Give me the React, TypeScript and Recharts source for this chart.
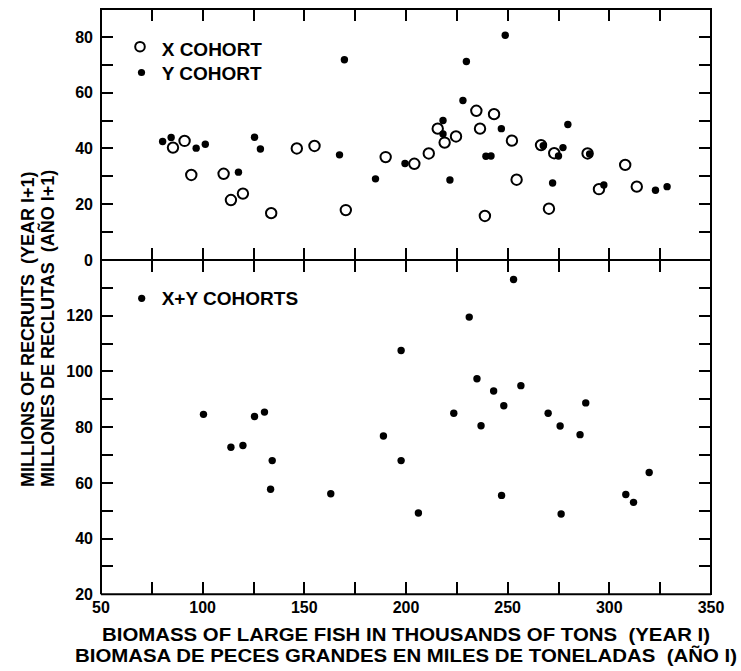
import React from "react";
import { ScatterChart, Scatter, XAxis, YAxis, Legend } from "recharts";

const biomassTicks = [50, 75, 100, 125, 150, 175, 200, 225, 250, 275, 300, 325, 350];
const biomassLabels = [50, 100, 150, 200, 250, 300, 350];

const topRecruitTicks = [0, 10, 20, 30, 40, 50, 60, 70, 80, 90];
const topRecruitLabels = [0, 20, 40, 60, 80];
const bottomRecruitTicks = [20, 30, 40, 50, 60, 70, 80, 90, 100, 110, 120, 130, 140];
const bottomRecruitLabels = [20, 40, 60, 80, 100, 120];

// X cohort (open circles)
const xCohortBiomass = [85.4, 91.1, 94.4, 110.3, 113.9, 119.8, 133.7, 146.3, 155, 170.4, 190, 204.1, 211.2, 215.6, 219, 224.6, 234.6, 236.4, 238.8, 243.3, 252.1, 254.4, 266.4, 270.3, 272.9, 289.3, 294.9, 307.8, 313.5];
const xCohortRecruits = [40.3, 42.7, 30.5, 30.9, 21.5, 23.8, 16.8, 40.0, 40.9, 17.9, 36.9, 34.5, 38.2, 47.1, 42.1, 44.3, 53.5, 47.1, 15.8, 52.3, 42.8, 28.8, 41.2, 18.4, 38.3, 38.2, 25.4, 34.1, 26.3];

// Y cohort (filled dots)
const yCohortBiomass = [80.3, 84.5, 96.8, 101.3, 117.6, 125.5, 128.4, 167.3, 169.7, 185, 199.5, 218.2, 218.2, 221.6, 228, 229.7, 239.3, 241.8, 246.9, 248.8, 267.5, 272.1, 275, 277.2, 279.6, 290.3, 297.3, 322.7, 328.4];
const yCohortRecruits = [42.5, 43.9, 40.1, 41.5, 31.5, 44.0, 39.8, 37.7, 71.8, 29.1, 34.6, 50.0, 45.2, 28.7, 57.2, 71.2, 37.2, 37.3, 47.1, 80.6, 41.0, 27.6, 37.3, 40.3, 48.6, 38.0, 26.9, 25.0, 26.3];

// X+Y cohorts
const xyBiomass = [100.4, 113.9, 119.8, 125.5, 130.4, 134.2, 133.4, 163, 188.9, 197.6, 197.6, 206.1, 223.5, 231.1, 234.9, 236.9, 243.1, 247, 248.1, 252.9, 256.5, 269.9, 275.8, 276.3, 285.6, 288.4, 308.1, 311.9, 319.6];
const xyRecruits = [84.6, 72.8, 73.4, 83.8, 85.4, 68.0, 57.7, 56.1, 76.8, 107.5, 68.0, 49.2, 85.0, 119.5, 97.4, 80.5, 93.0, 55.5, 87.7, 133.0, 94.9, 85.0, 80.4, 48.8, 77.3, 88.7, 55.8, 53.0, 63.7];

const toPoints = (xs: number[], ys: number[]) => xs.map((x, i) => ({ x, y: ys[i] }));

const xCohort = toPoints(xCohortBiomass, xCohortRecruits);
const yCohort = toPoints(yCohortBiomass, yCohortRecruits);
const xyCohorts = toPoints(xyBiomass, xyRecruits);

const FONT = '"Liberation Sans", Arial, Helvetica, sans-serif';
const AXIS = { stroke: "#000", strokeWidth: 2 };
const TICKFONT = { fontFamily: FONT, fontWeight: "bold", fontSize: 16, fill: "#000" };

// plot geometry shared by both charts
const X0 = 50;
const X1 = 350;
const LEFT = 101;
const PLOT_W = 610;
const TOP = 9;
const MID = 260;
const BOTTOM = 594.3;
const TICK_LEN = 12;

const only = (labels: number[]) => (v: number) => (labels.includes(v) ? String(v) : "");

// same linear mapping the charts use, for the frame and its inward ticks
const px = (v: number) => LEFT + ((v - X0) / (X1 - X0)) * PLOT_W;
const pyTop = (v: number) => MID - (v / 90) * (MID - TOP);
const pyBottom = (v: number) => MID + ((140 - v) / 120) * (BOTTOM - MID);

type Mark = { left: number; top: number; w: number; h: number };

function frameMarks(): Mark[] {
  const right = LEFT + PLOT_W;
  const m: Mark[] = [
    { left: LEFT - 1, top: TOP - 1, w: PLOT_W + 2, h: 2 },
    { left: right - 1, top: TOP - 1, w: 2, h: BOTTOM - TOP + 2 },
  ];
  biomassTicks.slice(1, -1).forEach((v) => {
    const x = px(v) - 1;
    m.push({ left: x, top: TOP, w: 2, h: TICK_LEN });
    m.push({ left: x, top: MID - TICK_LEN, w: 2, h: TICK_LEN });
    m.push({ left: x, top: MID, w: 2, h: TICK_LEN });
    m.push({ left: x, top: BOTTOM - TICK_LEN, w: 2, h: TICK_LEN });
  });
  topRecruitTicks.slice(1, -1).forEach((v) => {
    const y = pyTop(v) - 1;
    m.push({ left: LEFT, top: y, w: TICK_LEN, h: 2 });
    m.push({ left: right - TICK_LEN, top: y, w: TICK_LEN, h: 2 });
  });
  bottomRecruitTicks.slice(1, -1).forEach((v) => {
    const y = pyBottom(v) - 1;
    m.push({ left: LEFT, top: y, w: TICK_LEN, h: 2 });
    m.push({ left: right - TICK_LEN, top: y, w: TICK_LEN, h: 2 });
  });
  return m;
}

const marks = frameMarks();

const OpenCircle = (p: any) => (
  <circle cx={p.cx} cy={p.cy} r={5.2} fill="none" stroke="#000" strokeWidth={2} />
);
const Dot = (p: any) => <circle cx={p.cx} cy={p.cy} r={3.7} fill="#000" />;

const legendText = {
  fontFamily: FONT,
  fontWeight: "bold" as const,
  fontSize: 19,
  fill: "#000",
};

const TopLegend = () => (
  <svg width={180} height={60}>
    <circle cx={20} cy={16.7} r={4.8} fill="none" stroke="#000" strokeWidth={2} />
    <text x={41.7} y={26} {...legendText}>X COHORT</text>
    <circle cx={21.5} cy={42.5} r={3.6} fill="#000" />
    <text x={41.7} y={50} {...legendText}>Y COHORT</text>
  </svg>
);

const BottomLegend = () => (
  <svg width={180} height={40}>
    <circle cx={21.7} cy={18.3} r={3.6} fill="#000" />
    <text x={41.7} y={25} {...legendText}>X+Y COHORTS</text>
  </svg>
);

const titleText = {
  fontFamily: FONT,
  fontWeight: "bold" as const,
  fontSize: 18,
  fill: "#000",
};

export default function App() {
  return (
    <div style={{ position: "absolute", left: 0, top: 0, width: 741, height: 671, background: "#fff" }}>
      <div style={{ position: "absolute", left: 0, top: 0 }}>
        <ScatterChart width={741} height={280} margin={{ top: TOP, right: 30, bottom: 0, left: 41 }}>
          <XAxis dataKey="x" type="number" domain={[X0, X1]} ticks={biomassTicks} interval={0}
            height={20} axisLine={AXIS} tickLine={false} tick={false} />
          <YAxis dataKey="y" type="number" domain={[0, 90]} ticks={topRecruitTicks} interval={0}
            width={60} tickSize={0} tickMargin={8} axisLine={AXIS} tickLine={false}
            tick={TICKFONT} tickFormatter={only(topRecruitLabels)} />
          <Legend layout="vertical" align="center" verticalAlign="middle"
            wrapperStyle={{ left: 120, top: 30, width: 180, height: 60 }} content={() => <TopLegend />} />
          <Scatter name="X COHORT" data={xCohort} shape={OpenCircle} isAnimationActive={false} />
          <Scatter name="Y COHORT" data={yCohort} shape={Dot} isAnimationActive={false} />
        </ScatterChart>
      </div>
      <div style={{ position: "absolute", left: 0, top: MID }}>
        <ScatterChart width={741} height={411} margin={{ top: 0, right: 30, bottom: 0, left: 41 }}>
          <XAxis dataKey="x" type="number" domain={[X0, X1]} ticks={biomassTicks} interval={0}
            height={76.7} tickSize={0} tickMargin={7} axisLine={AXIS} tickLine={false}
            tick={TICKFONT} tickFormatter={only(biomassLabels)} />
          <YAxis dataKey="y" type="number" domain={[20, 140]} ticks={bottomRecruitTicks} interval={0}
            width={60} tickSize={0} tickMargin={8} axisLine={AXIS} tickLine={false}
            tick={TICKFONT} tickFormatter={only(bottomRecruitLabels)} />
          <Legend layout="vertical" align="center" verticalAlign="middle"
            wrapperStyle={{ left: 120, top: 20, width: 180, height: 40 }} content={() => <BottomLegend />} />
          <Scatter name="X+Y COHORTS" data={xyCohorts} shape={Dot} isAnimationActive={false} />
        </ScatterChart>
      </div>
      {marks.map((k, i) => (
        <div key={`m${i}`} style={{ position: "absolute", left: k.left, top: k.top, width: k.w, height: k.h, background: "#000" }} />
      ))}
      <svg width={741} height={671} style={{ position: "absolute", left: 0, top: 0, pointerEvents: "none" }}>
        <text transform="translate(33.6, 487) rotate(-90)" {...titleText} style={{ whiteSpace: "pre" }}>
          MILLIONS OF RECRUITS  (YEAR I+1)
        </text>
        <text transform="translate(53.6, 487) rotate(-90)" {...titleText} style={{ whiteSpace: "pre" }}>
          MILLONES DE RECLUTAS  (AÑO I+1)
        </text>
        <text x={102} y={641} textLength={608} lengthAdjust="spacingAndGlyphs" {...titleText} style={{ whiteSpace: "pre" }}>
          BIOMASS OF LARGE FISH IN THOUSANDS OF TONS  (YEAR I)
        </text>
        <text x={75} y={662} textLength={662} lengthAdjust="spacingAndGlyphs" {...titleText} style={{ whiteSpace: "pre" }}>
          BIOMASA DE PECES GRANDES EN MILES DE TONELADAS  (AÑO I)
        </text>
      </svg>
    </div>
  );
}
